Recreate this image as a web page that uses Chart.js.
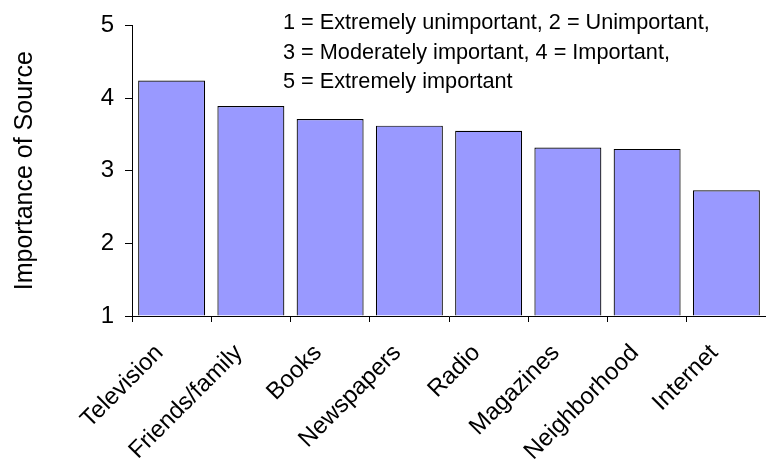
<!DOCTYPE html>
<html lang="en">
<head>
<meta charset="utf-8">
<title>Importance of Source</title>
<script src="https://cdn.jsdelivr.net/npm/chart.js@4.4.1/dist/chart.umd.min.js"></script>
<style>
    html, body {
        margin: 0;
        padding: 0;
        background: #ffffff;
    }
    #chartWrap {
        position: relative;
        width: 766px;
        height: 471px;
    }
</style>
</head>
<body>
<div id="chartWrap">
    <canvas id="sourceChart" width="766" height="471"></canvas>
</div>
<script>
// Chart data
const categories = ['Television', 'Friends/family', 'Books', 'Newspapers', 'Radio', 'Magazines', 'Neighborhood', 'Internet'];
const importanceValues = [4.24, 3.89, 3.71, 3.62, 3.55, 3.32, 3.30, 2.73];
const yTickValues = [1, 2, 3, 4, 5];
const yAxisTitle = 'Importance of Source';
const scaleNotes = [
    '1 = Extremely unimportant, 2 = Unimportant,',
    '3 = Moderately important, 4 = Important,',
    '5 = Extremely important'
];

const FONT = "'Liberation Sans', Arial, sans-serif";

// Draws the scale key in the top right of the plot
const scaleNotePlugin = {
    id: 'scaleNote',
    afterDraw(chart) {
        const ctx = chart.ctx;
        ctx.save();
        ctx.font = '21.7px ' + FONT;
        ctx.fillStyle = '#000000';
        ctx.textAlign = 'left';
        ctx.textBaseline = 'alphabetic';
        scaleNotes.forEach((line, i) => {
            ctx.fillText(line, 283, 29 + i * 29.5);
        });
        ctx.restore();
    }
};

function createSourceChart() {
    const canvas = document.getElementById('sourceChart');
    if (!canvas) return;

    const ctx = canvas.getContext('2d');

    return new Chart(ctx, {
        type: 'bar',
        data: {
            labels: categories,
            datasets: [{
                data: importanceValues,
                backgroundColor: '#9999ff',
                borderColor: '#000000',
                borderWidth: 1.2,
                borderSkipped: 'bottom',
                categoryPercentage: 1,
                barPercentage: 0.845,
                base: 1
            }]
        },
        options: {
            responsive: false,
            animation: false,
            layout: {
                padding: { top: 23, right: 0, bottom: 0, left: 0 }
            },
            plugins: {
                legend: { display: false },
                tooltip: { enabled: false }
            },
            scales: {
                x: {
                    grid: {
                        offset: true,
                        drawOnChartArea: false,
                        drawTicks: true,
                        tickLength: 6,
                        color: '#000000'
                    },
                    border: { color: '#000000', width: 1 },
                    ticks: {
                        color: '#000000',
                        font: { family: FONT, size: 24 },
                        minRotation: 45,
                        maxRotation: 45,
                        autoSkip: false,
                        padding: 17,
                        labelOffset: -12
                    },
                    afterFit(scale) {
                        scale.height = 155;
                    }
                },
                y: {
                    min: 1,
                    max: 5,
                    afterBuildTicks(scale) {
                        scale.ticks = yTickValues.map(v => ({ value: v }));
                    },
                    grid: {
                        drawOnChartArea: false,
                        drawTicks: true,
                        tickLength: 7,
                        color: '#000000'
                    },
                    border: { color: '#000000', width: 1 },
                    ticks: {
                        color: '#000000',
                        font: { family: FONT, size: 24 },
                        padding: 11
                    },
                    title: {
                        display: true,
                        text: yAxisTitle,
                        color: '#000000',
                        font: { family: FONT, size: 25 },
                        padding: { top: 10, bottom: 0 }
                    },
                    afterFit(scale) {
                        scale.width = 132;
                    }
                }
            }
        },
        plugins: [scaleNotePlugin]
    });
}

document.addEventListener('DOMContentLoaded', () => {
    window.sourceChart = createSourceChart();
});
</script>
</body>
</html>
